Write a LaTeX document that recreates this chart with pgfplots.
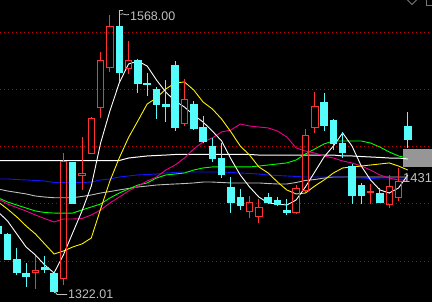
\documentclass[border=0pt]{standalone}
\usepackage{fontspec}
\setmainfont{Liberation Sans}
\usepackage{pgfplots}
\usepackage{pgfplotstable}
\pgfplotsset{compat=1.18}
\definecolor{cred}{RGB}{255,50,50}
\definecolor{ccyan}{RGB}{84,252,252}
\definecolor{cgrid}{RGB}{190,0,0}
\definecolor{ctext}{RGB}{192,192,192}
\definecolor{cbox}{RGB}{150,150,150}
\definecolor{cblue}{RGB}{20,20,255}
\definecolor{cgray}{RGB}{190,190,190}
\definecolor{cicon}{RGB}{120,120,120}

% candle: index, open, high, low, close, colour, fill
\newcommand{\candle}[7]{%
  \pgfmathsetmacro{\cxl}{#1-0.35}%
  \pgfmathsetmacro{\cxr}{#1+0.35}%
  \pgfmathsetmacro{\cbot}{min(#2,#5)}%
  \pgfmathsetmacro{\ctop}{max(#2,#5)}%
  \edef\ctmp{%
    \noexpand\addplot[#6, line width=0.9bp] coordinates {(#1,#3) (#1,\ctop)};
    \noexpand\addplot[#6, line width=0.9bp] coordinates {(#1,\cbot) (#1,#4)};
    \noexpand\addplot[draw=#6, fill=#7, line width=0.9bp] coordinates {(\cxl,#2) (\cxr,#2) (\cxr,#5) (\cxl,#5)} --cycle;
  }\ctmp}
\newcommand{\up}[5]{\candle{#1}{#2}{#3}{#4}{#5}{cred}{none}}
\newcommand{\dn}[5]{\candle{#1}{#2}{#3}{#4}{#5}{ccyan}{ccyan}}

\pgfplotstableread{
i ma5 ma10 ma20 ma30 ma60 ma120 ma250
-1 1392.9 1401.7 1404.3 1405.2 1421.8 1413.0 1437.9
0 1385.1 1395.5 1399.9 1401.7 1421.8 1411.3 1437.9
1 1373.7 1388.6 1396.8 1399.0 1421.3 1410.0 1437.9
2 1362.3 1380.7 1393.8 1396.4 1420.9 1408.7 1437.9
3 1355.3 1373.7 1390.3 1393.8 1420.5 1406.9 1437.9
4 1346.6 1365.0 1387.1 1392.5 1420.0 1406.0 1437.9
5 1339.6 1356.2 1384.2 1392.0 1418.7 1405.4 1437.9
6 1355.3 1358.8 1386.8 1392.0 1418.7 1405.4 1437.9
7 1374.6 1362.3 1386.8 1392.0 1418.7 1405.4 1437.9
8 1393.8 1365.0 1387.2 1394.7 1418.7 1406.5 1437.9
9 1415.6 1370.2 1390.3 1397.3 1419.1 1407.8 1437.9
10 1453.2 1395.5 1394.7 1399.9 1420.9 1409.5 1437.9
11 1481.2 1420.0 1400.8 1405.2 1421.8 1410.8 1437.9
12 1505.7 1440.1 1406.0 1409.5 1423.5 1412.2 1437.9
13 1522.3 1458.0 1411.3 1413.0 1424.4 1413.5 1440.1
14 1524.9 1472.5 1415.6 1416.5 1425.3 1414.8 1441.0
15 1520.5 1487.3 1420.0 1418.3 1425.7 1415.6 1441.9
16 1508.3 1492.6 1423.5 1422.6 1426.1 1416.5 1442.3
17 1497.8 1500.4 1429.6 1425.3 1427.0 1417.0 1442.7
18 1489.9 1505.7 1434.0 1426.1 1427.5 1417.4 1443.2
19 1484.7 1506.6 1440.1 1427.0 1427.9 1417.8 1443.2
20 1477.7 1499.6 1448.0 1429.6 1427.9 1418.3 1443.2
21 1471.6 1489.1 1454.1 1431.4 1427.9 1419.1 1443.2
22 1463.7 1483.0 1457.6 1432.3 1427.9 1419.1 1443.2
23 1455.0 1474.2 1462.9 1432.3 1427.9 1418.7 1443.2
24 1439.3 1462.9 1464.6 1432.3 1427.5 1418.3 1443.2
25 1425.3 1450.6 1469.8 1432.3 1427.0 1418.3 1443.2
26 1414.8 1442.7 1468.1 1432.3 1426.6 1418.3 1443.2
27 1406.0 1432.3 1467.2 1433.1 1426.1 1418.3 1442.7
28 1400.8 1427.0 1466.4 1434.0 1425.3 1417.8 1442.7
29 1399.9 1419.1 1463.7 1434.9 1424.8 1417.4 1442.7
30 1399.0 1412.2 1458.5 1435.8 1424.4 1417.4 1442.7
31 1403.4 1408.7 1448.9 1438.4 1424.0 1418.7 1442.7
32 1414.8 1409.5 1446.2 1443.6 1423.5 1420.5 1442.7
33 1427.9 1415.6 1444.5 1448.0 1423.5 1421.3 1442.7
34 1441.0 1420.9 1441.9 1452.4 1423.5 1422.6 1442.7
35 1450.6 1427.0 1440.1 1455.0 1423.5 1423.5 1442.7
36 1462.0 1431.4 1437.5 1455.0 1423.5 1423.5 1441.9
37 1450.6 1432.3 1435.8 1455.0 1422.6 1423.5 1441.9
38 1433.1 1433.1 1433.1 1455.0 1422.6 1423.5 1441.4
39 1420.9 1434.0 1429.6 1453.2 1422.2 1423.5 1441.0
40 1412.2 1434.9 1425.3 1449.7 1421.8 1423.5 1440.6
41 1409.5 1435.8 1422.6 1445.4 1421.8 1423.5 1440.1
42 1413.9 1433.1 1420.9 1441.9 1421.8 1423.5 1440.1
43 1425.3 1429.6 1420.9 1440.1 1421.8 1423.5 1439.3
}\ma

\begin{document}
\begin{tikzpicture}
\begin{axis}[
  width=432bp, height=302bp, scale only axis,
  xmin=-0.8056, xmax=45.596, ymin=1314.25, ymax=1578.23,
  axis line style={draw=none},
  xtick=\empty, ytick={1350,1400,1450,1500,1550}, yticklabels={},
  major tick length=0pt,
  ymajorgrids, grid style={cgrid, line width=1bp, dash pattern=on 1.3bp off 2.7bp},
  axis background/.style={fill=black},
]
\fill[cbox] (rel axis cs:0.93287,0.44702) rectangle (rel axis cs:1.01,0.50662);
\addplot[cgray, line width=0.9bp] table[x=i, y=ma120] {\ma};
\addplot[cblue, line width=0.9bp] table[x=i, y=ma60] {\ma};
\addplot[white, line width=1bp] table[x=i, y=ma250] {\ma};
\addplot[green, line width=0.9bp] table[x=i, y=ma30] {\ma};
\addplot[magenta, line width=0.9bp] table[x=i, y=ma20] {\ma};
\addplot[yellow, line width=0.9bp] table[x=i, y=ma10] {\ma};
\addplot[white, line width=0.9bp] table[x=i, y=ma5] {\ma};

\dn{-1}{1380.7}{1382.4}{1373.7}{1374.6}
\dn{0}{1373.7}{1374.5}{1351.0}{1351.8}
\dn{1}{1351.8}{1361.5}{1337.9}{1340.5}
\dn{2}{1339.6}{1348.3}{1327.4}{1337.0}
\up{3}{1340.5}{1354.5}{1325.6}{1342.2}
\dn{4}{1344.8}{1354.5}{1339.6}{1343.1}
\dn{5}{1339.6}{1341.3}{1322.01}{1323.9}
\up{6}{1335.2}{1444.5}{1329.1}{1437.5}
\dn{7}{1435.8}{1436.5}{1400.0}{1400.8}
\up{8}{1425.3}{1458.5}{1412.1}{1427.0}
\up{9}{1444.5}{1476.0}{1443.6}{1475.1}
\up{10}{1484.7}{1532.8}{1475.1}{1525.8}
\up{11}{1519.7}{1565.1}{1515.3}{1555.5}
\dn{12}{1555.5}{1568.0}{1506.6}{1515.3}
\up{13}{1518.8}{1542.4}{1513.5}{1525.8}
\dn{14}{1525.8}{1526.5}{1496.9}{1505.7}
\dn{15}{1505.2}{1514.4}{1494.3}{1504.4}
\dn{16}{1500.4}{1502.2}{1474.2}{1487.3}
\dn{17}{1487.3}{1508.3}{1471.6}{1485.6}
\dn{18}{1521.4}{1524.9}{1463.7}{1467.2}
\up{19}{1470.7}{1509.2}{1468.1}{1491.7}
\dn{20}{1487.3}{1490.0}{1464.6}{1466.3}
\dn{21}{1467.2}{1476.8}{1453.2}{1455.0}
\dn{22}{1450.6}{1457.6}{1436.6}{1440.1}
\dn{23}{1440.1}{1453.2}{1422.6}{1426.1}
\dn{24}{1414.8}{1423.5}{1392.1}{1401.7}
\dn{25}{1406.0}{1413.0}{1394.7}{1399.0}
\up{26}{1393.8}{1406.9}{1387.7}{1401.7}
\up{27}{1389.4}{1404.3}{1383.3}{1397.3}
\dn{28}{1405.2}{1409.5}{1399.9}{1401.7}
\dn{29}{1403.4}{1406.0}{1398.2}{1399.9}
\dn{30}{1394.7}{1404.3}{1390.3}{1392.1}
\up{31}{1392.1}{1416.5}{1391.2}{1413.9}
\up{32}{1412.1}{1465.5}{1410.4}{1460.2}
\up{33}{1467.2}{1497.8}{1462.0}{1485.6}
\dn{34}{1489.1}{1496.9}{1463.7}{1469.0}
\dn{35}{1473.3}{1474.0}{1447.1}{1453.2}
\dn{36}{1453.2}{1462.9}{1440.1}{1445.4}
\dn{37}{1433.1}{1434.9}{1399.9}{1407.8}
\dn{38}{1416.5}{1418.2}{1399.9}{1407.8}
\up{39}{1410.0}{1417.4}{1399.9}{1410.8}
\dn{40}{1408.7}{1413.9}{1400.8}{1401.7}
\up{41}{1399.9}{1425.3}{1396.4}{1415.6}
\up{42}{1406.0}{1431.4}{1402.5}{1420.0}
\dn{43}{1468.1}{1480.3}{1448.9}{1456.7}
\end{axis}
\begin{scope}[shift={(current axis.north west)}, x=1bp, y=-1bp]
  \draw[ctext, line width=0.8bp] (119.5,13) -- (119.5,10) -- (123,10);
  \draw[ctext, line width=0.8bp] (120.5,14.5) .. controls (123,12.5) and (125,16) .. (129,14.5);
  \node[ctext, anchor=west, inner sep=0pt, font=\fontsize{12.5}{12.5}\selectfont] at (130,16) {1568.00};
  \draw[ctext, line width=0.8bp] (54.5,290.5) -- (57,294.5) -- (67,294.5);
  \node[ctext, anchor=west, inner sep=0pt, font=\fontsize{12.5}{12.5}\selectfont] at (68,294) {1322.01};
  \node[ctext, anchor=west, inner sep=0pt, font=\fontsize{13}{13}\selectfont] at (403,178) {1431};
  \draw[cicon, line width=0.8bp] (407,-0.5) -- (412,4.5) -- (417,-0.5);
  \draw[cicon, line width=0.8bp] (426,-0.5) -- (426,5) -- (433,5);
\end{scope}
\pgfresetboundingbox
\path (current axis.south west) rectangle (current axis.north east);
\end{tikzpicture}
\end{document}
